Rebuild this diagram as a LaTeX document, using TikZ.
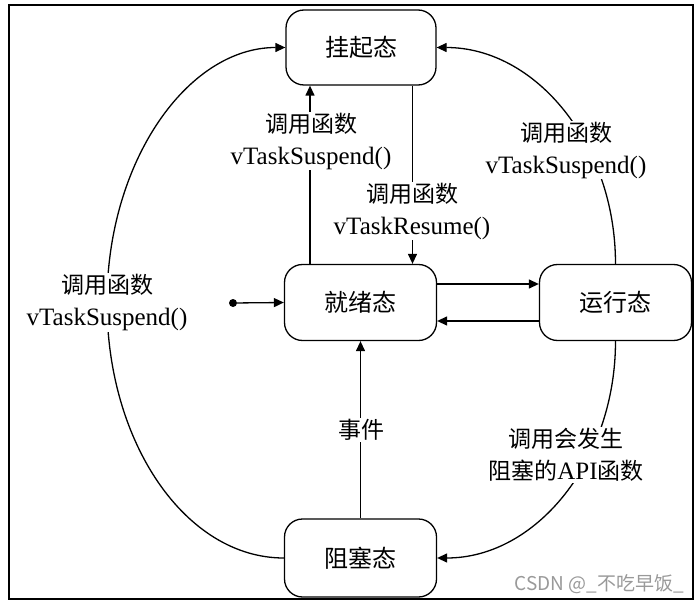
\documentclass[tikz,border=0pt]{standalone}
\usepackage{fontspec}
\setmainfont{Liberation Serif}
\newfontfamily\cjk{Noto Sans CJK SC}
\usetikzlibrary{arrows.meta}
\newcommand{\zh}[1]{{\cjk\fontsize{23}{32}\selectfont #1}}
\begin{document}
\begin{tikzpicture}[x=1pt,y=-1pt,
  state/.style={draw, line width=1.3pt, rounded corners=18pt, minimum width=152pt,
    minimum height=76pt, inner sep=0pt, font=\fontsize{24}{28}\selectfont\cjk},
  lbl/.style={fill=white, align=center, inner sep=1pt, font=\fontsize{25}{32}\selectfont},
  ln/.style={line width=1.3pt},
  arr/.style={line width=1.3pt, -{Triangle[length=10pt,width=9pt]}}]
\useasboundingbox (0,0) rectangle (699,604);
\draw[line width=2pt] (9,5) rectangle (692.5,599);

\node[state, minimum width=150pt, minimum height=75pt] (gq) at (361,47.5) {挂起态};
\node[state] (jx) at (360.5,302.5) {就绪态};
\node[state] (yx) at (615.5,302.5) {运行态};
\node[state, minimum height=78pt] (zs) at (360.5,558) {阻塞态};

\node[circle, fill, inner sep=0pt, minimum size=8pt] (st) at (233,303) {};
\draw[arr] (st) -- (jx.west);

\draw[arr] ([xshift=-50.5pt]jx.north) -- ([xshift=-51pt]gq.south);
\draw[arr] ([xshift=51.5pt]gq.south) -- ([xshift=52pt]jx.north);
\draw[arr] ([yshift=18.5pt]jx.east) -- ([yshift=18.5pt]yx.west);
\draw[arr] ([yshift=-18.5pt]yx.west) -- ([yshift=-18.5pt]jx.east);
\draw[arr] (zs.north) -- (jx.south);

\coordinate (lm) at (107,302.5);
\draw[arr] (zs.west) .. controls +(-98,0) and +(0,140.6) .. (lm)
  .. controls +(0,-140.6) and +(-98,0) .. (gq.west);
\draw[arr] (yx.north) .. controls +(0,-120) and +(98.9,0) .. (gq.east);
\draw[arr] (yx.south) .. controls +(0,120) and +(98.9,0) .. (zs.east);

\node[lbl] (l1) at (311,141) {\zh{调用函数}\\vTaskSuspend()};
\node[lbl] (l2) at (412,211) {\zh{调用函数}\\vTaskResume()};
\node[lbl] (l3) at (107,302.5) {\zh{调用函数}\\vTaskSuspend()};
\node[lbl] (l4) at (566,150) {\zh{调用函数}\\vTaskSuspend()};
\node[lbl] (l5) at (566,455) {\zh{调用会发生}\\\zh{阻塞的}API\zh{函数}};
\node[lbl] (l6) at (361,430) {\zh{事件}};

\node[anchor=east, inner sep=0pt, text=black!40, font=\fontsize{19}{22}\selectfont\cjk] (wm) at (684,584) {CSDN @\_不吃早饭\_};
\end{tikzpicture}
\end{document}
